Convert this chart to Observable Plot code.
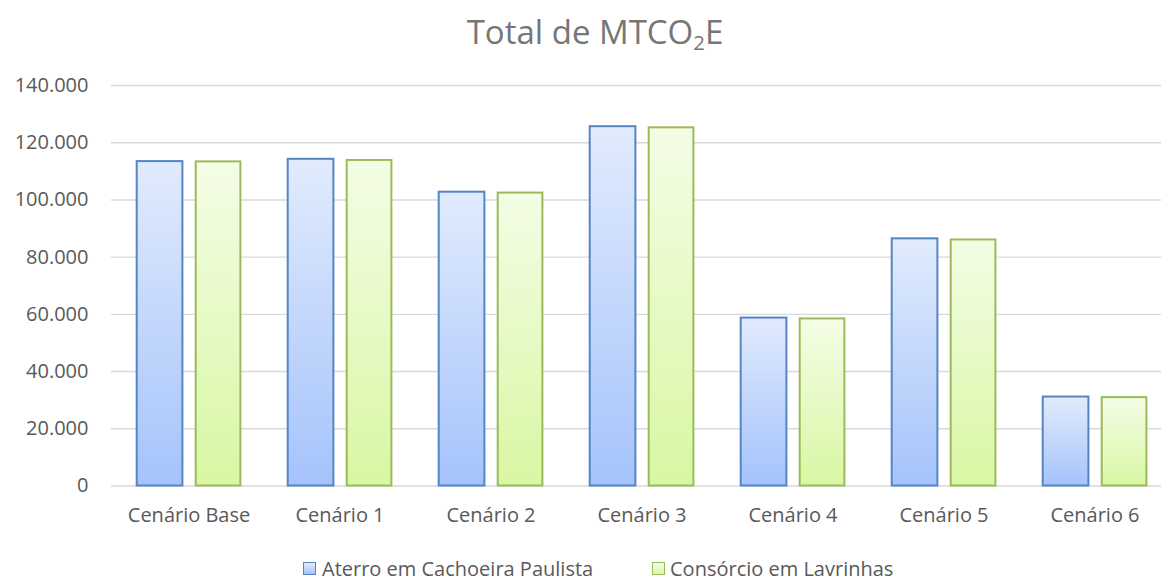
<!DOCTYPE html>
<html><head><meta charset="utf-8">
<script src="https://cdn.jsdelivr.net/npm/d3@7"></script>
<script src="https://cdn.jsdelivr.net/npm/@observablehq/plot@0.6"></script>
<style>
html,body{margin:0;padding:0;width:1161px;height:581px;overflow:hidden;background:#fff;font-family:"Open Sans",sans-serif;position:relative;}
#title{position:absolute;left:0;top:12px;width:1190px;text-align:center;font-size:33px;line-height:40px;color:#767676;}
#title sub{font-size:0.62em;vertical-align:-0.3em;line-height:0;}
#chart{position:absolute;left:0;top:60px;}
#chart svg{max-width:none !important;}
.lg{position:absolute;top:556px;font-size:20px;line-height:26px;color:#595959;white-space:nowrap;}
.sw{position:absolute;top:562px;width:11px;height:11px;}
</style>
</head><body>
<div id="title">Total de MTCO<sub>2</sub>E</div>
<div id="chart"></div>
<div class="sw" style="left:303px;border:1.5px solid #5585c5;background:linear-gradient(#e1ebfd,#a5c3fb);"></div>
<div class="lg" style="left:322px;" id="lg1"></div>
<div class="sw" style="left:652px;border:1.5px solid #9bbb59;background:linear-gradient(#f4fde6,#d8f7a3);"></div>
<div class="lg" style="left:670px;" id="lg2"></div>
<script>
const categories = ["Cenário Base","Cenário 1","Cenário 2","Cenário 3","Cenário 4","Cenário 5","Cenário 6"];
const seriesNames = ["Aterro em Cachoeira Paulista","Consórcio em Lavrinhas"];
const aterro = [113400, 114200, 102700, 125600, 58700, 86400, 31100];
const consorcio = [113300, 113800, 102400, 125200, 58400, 86000, 30900];
const yTicks = [0,20000,40000,60000,80000,100000,120000,140000];

document.getElementById("lg1").textContent = seriesNames[0];
document.getElementById("lg2").textContent = seriesNames[1];

const rows = categories.map((c,i)=>({cat:c, aterro:aterro[i], consorcio:consorcio[i]}));
const fmt = d => d === 0 ? "0" : d3.format(",")(d).replace(/,/g,".");

const defsMark = () => {
  const ns = "http://www.w3.org/2000/svg";
  const defs = document.createElementNS(ns,"defs");
  defs.innerHTML = `
   <linearGradient id="gBlue" x1="0" y1="0" x2="0" y2="1">
     <stop offset="0" stop-color="#e1ebfd"/><stop offset="1" stop-color="#a5c3fb"/>
   </linearGradient>
   <linearGradient id="gGreen" x1="0" y1="0" x2="0" y2="1">
     <stop offset="0" stop-color="#f4fde6"/><stop offset="1" stop-color="#d8f7a3"/>
   </linearGradient>`;
  return defs;
};

const chart = Plot.plot({
  width: 1171,
  height: 490,
  marginLeft: 111,
  marginRight: 0,
  marginTop: 25,
  marginBottom: 64.5,
  style: {fontFamily:"'Open Sans', sans-serif", fontSize:"20px", color:"#595959", background:"transparent", overflow:"visible", maxWidth:"none"},
  x: {type:"band", domain: categories, padding: 0, axis: null},
  y: {domain:[0,140000], axis: null},
  marks: [
    defsMark,
    Plot.ruleY(yTicks, {stroke:"#d9d9d9", strokeWidth:1.4}),
    Plot.barY(rows, {x:"cat", y:"aterro", fill:"url(#gBlue)", stroke:"#5585c5", strokeWidth:2, insetLeft:23.7, insetRight:81.6}),
    Plot.barY(rows, {x:"cat", y:"consorcio", fill:"url(#gGreen)", stroke:"#9bbb59", strokeWidth:2, insetLeft:82.7, insetRight:23.6}),
    Plot.axisY(yTicks, {tickFormat: fmt, tickSize:0, tickPadding:23, label:null}),
    Plot.axisX({tickSize:0, tickPadding:22, label:null})
  ]
});
document.getElementById("chart").appendChild(chart);
</script>
</body></html>
